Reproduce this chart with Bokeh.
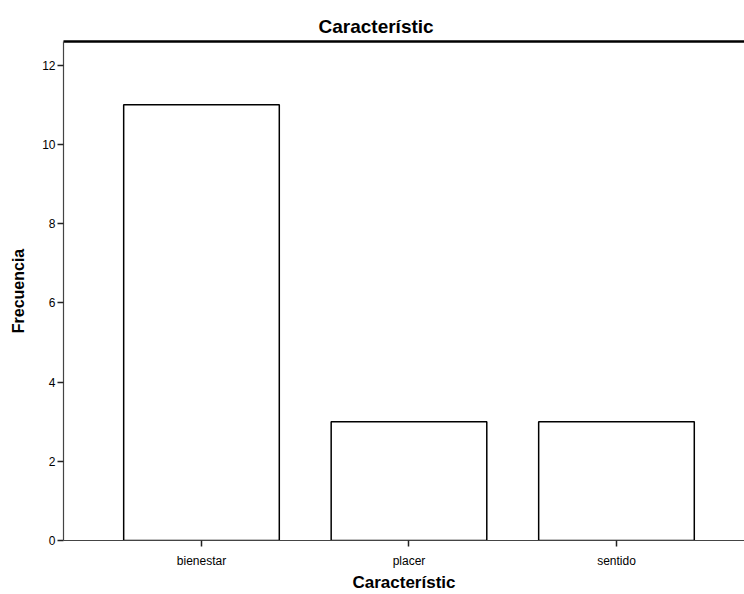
from bokeh.plotting import figure
from bokeh.models import Range1d, FixedTicker, LinearAxis
from bokeh.embed import file_html
from bokeh.resources import INLINE

categories = ["bienestar", "placer", "sentido"]
frecuencia = [11, 3, 3]
y_ticks = [0, 2, 4, 6, 8, 10, 12]

x_pos = [i + 0.5 for i in range(len(categories))]
FONT = "Liberation Sans"

p = figure(width=744, height=594, output_backend="svg", toolbar_location=None,
           x_range=Range1d(-0.165, 3.117), y_range=Range1d(0, 12.6),
           min_border_left=63, min_border_top=41, min_border_bottom=54,
           min_border_right=0)

p.vbar(x=x_pos, top=frecuencia, width=0.75, bottom=0,
       fill_color="white", line_color="black", line_width=1.5)

p.title.text = "Característic"
p.title.text_font = FONT
p.title.text_font_size = "19px"
p.title.text_font_style = "bold"
p.title.text_color = "black"
p.title.align = "left"
p.title.offset = 255

p.xgrid.visible = False
p.ygrid.visible = False
p.outline_line_color = None
p.background_fill_color = "white"
p.border_fill_color = "white"

xa = p.xaxis[0]
xa.ticker = FixedTicker(ticks=x_pos)
xa.major_label_overrides = {x: c for x, c in zip(x_pos, categories)}
xa.axis_label = "Característic"

ya = p.yaxis[0]
ya.ticker = FixedTicker(ticks=y_ticks)
ya.axis_label = "Frecuencia"

for ax in (xa, ya):
    ax.axis_line_color = "#444444"
    ax.axis_line_width = 1.2
    ax.major_tick_line_color = "#222222"
    ax.major_tick_line_width = 1.5
    ax.major_tick_in = 0
    ax.major_tick_out = 6
    ax.minor_tick_line_color = None
    ax.major_label_text_font = FONT
    ax.major_label_text_font_size = "12px"
    ax.major_label_text_color = "black"
    ax.axis_label_text_font = FONT
    ax.axis_label_text_font_style = "bold"
    ax.axis_label_text_color = "black"

xa.major_label_text_line_height = 1.0
xa.major_label_standoff = 7
xa.axis_label_standoff = 2
xa.axis_label_text_line_height = 1.0
xa.axis_label_text_font_size = "17px"
ya.major_label_standoff = 2
ya.axis_label_standoff = 12
ya.axis_label_text_font_size = "16px"

top_axis = LinearAxis(ticker=FixedTicker(ticks=[]), axis_line_color="black",
                      axis_line_width=2.5, major_tick_in=0, major_tick_out=0,
                      minor_tick_line_color=None, major_label_text_font_size="0px")
p.add_layout(top_axis, "above")

open("out.html", "w").write(file_html(p, INLINE))
